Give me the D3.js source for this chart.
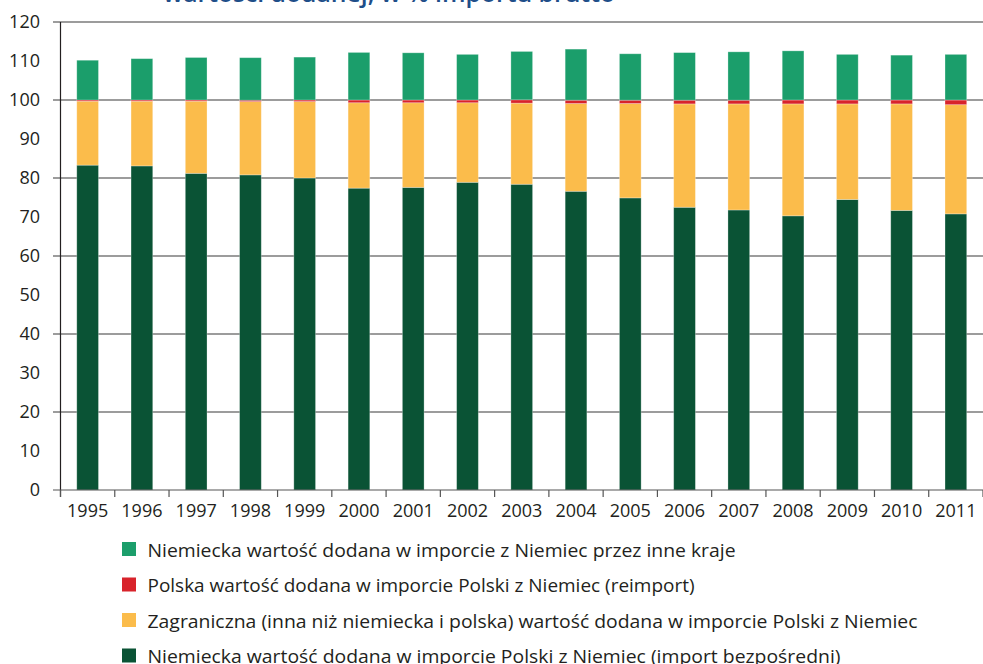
<!DOCTYPE html>
<html>
<head>
<meta charset="utf-8">
<script src="https://cdn.jsdelivr.net/npm/d3@7"></script>
<style>
  body { margin: 0; background: #fff; }
  svg { display: block; font-family: "Open Sans", sans-serif; }
</style>
</head>
<body>
<svg id="chart"></svg>
<script>
const years = ["1995","1996","1997","1998","1999","2000","2001","2002","2003","2004","2005","2006","2007","2008","2009","2010","2011"];

// niemiecka VA w imporcie bezposrednim
const direct   = [83.3,83.1,81.2,80.8,80.0,77.4,77.6,78.9,78.4,76.6,74.9,72.5,71.8,70.3,74.5,71.7,70.8];
// zagraniczna (inna niz niemiecka i polska)
const foreign  = [16.4,16.6,18.5,18.8,19.6,21.9,21.7,20.4,20.8,22.5,24.2,26.5,27.2,28.7,24.5,27.3,28.0];
// polska VA (reimport)
const reimport = [0.3,0.3,0.3,0.35,0.4,0.7,0.7,0.7,0.85,0.85,0.85,0.95,0.95,1.0,1.0,1.0,1.2];
// niemiecka VA przez inne kraje
const viaOther = [10.2,10.6,10.9,10.9,11.0,12.2,12.1,11.7,12.4,13.1,11.9,12.2,12.4,12.6,11.7,11.5,11.7];

const yTicks = [0,10,20,30,40,50,60,70,80,90,100,110,120];
const gridTicks = [20,40,60,80,100,120];

const legendLabels = [
  "Niemiecka wartość dodana w imporcie z Niemiec przez inne kraje",
  "Polska wartość dodana w imporcie Polski z Niemiec (reimport)",
  "Zagraniczna (inna niż niemiecka i polska) wartość dodana w imporcie Polski z Niemiec",
  "Niemiecka wartość dodana w imporcie Polski z Niemiec (import bezpośredni)"
];
const legendWidths = [588, 547, 770, 693];

const keys = ["direct","foreign","reimport","viaOther"];
const colors = {direct:"#0a5335", foreign:"#fbbc4b", reimport:"#d8232b", viaOther:"#1b9e6b"};

const W = 983, H = 664;
const m = {left: 60.5, top: 22, bottom: 490};
const plotRight = 983;

let rows = years.map((y,i)=>({year:y, direct:direct[i], foreign:foreign[i], reimport:reimport[i], viaOther:viaOther[i]}));

let svg = d3.select("#chart").attr("width", W).attr("height", H);

let x = d3.scaleBand().domain(years).range([m.left, plotRight]).paddingInner(0.6).paddingOuter(0.3);
let xb = d3.scaleBand().domain(years).range([m.left, plotRight]);
let y = d3.scaleLinear().domain([0,120]).range([m.bottom, m.top]);

// tytul (uciety u gory)
svg.append("text")
  .attr("x", 163).attr("y", 1.5)
  .attr("fill", "#1f4e89")
  .attr("font-size", 23)
  .attr("font-weight", 600)
  .attr("textLength", 452)
  .attr("lengthAdjust", "spacingAndGlyphs")
  .text("wartości dodanej, w % importu brutto");

// siatka
svg.append("g").selectAll("line")
  .data(gridTicks)
  .enter().append("line")
  .attr("x1", 53).attr("x2", plotRight)
  .attr("y1", d=>y(d)).attr("y2", d=>y(d))
  .attr("stroke", "#3a3a3a").attr("stroke-width", 1.2);

// slupki
let stack = d3.stack().keys(keys)(rows);
svg.append("g").selectAll("g")
  .data(stack)
  .enter().append("g")
  .attr("fill", d=>colors[d.key])
  .selectAll("rect")
  .data(d=>d)
  .enter().append("rect")
  .attr("x", d=>x(d.data.year))
  .attr("width", x.bandwidth())
  .attr("y", d=>y(d[1]))
  .attr("height", d=>y(d[0]) - y(d[1]))
  .attr("stroke", "#ffffff").attr("stroke-opacity", 0.35).attr("stroke-width", 0.8);

// os Y
svg.append("line")
  .attr("x1", m.left).attr("x2", m.left)
  .attr("y1", m.top).attr("y2", m.bottom + 7)
  .attr("stroke", "#231f20").attr("stroke-width", 1.2);

svg.append("g").selectAll("text")
  .data(yTicks)
  .enter().append("text")
  .attr("x", 40).attr("y", d=>y(d))
  .attr("dy", "0.36em")
  .attr("text-anchor", "end")
  .attr("font-size", 18)
  .attr("fill", "#231f20")
  .text(d=>d);

// os X
let xAxis = svg.append("g")
  .attr("transform", `translate(0,${m.bottom})`)
  .call(d3.axisBottom(xb).tickSize(0).tickPadding(14));
xAxis.select(".domain").remove();
xAxis.selectAll("text").attr("font-size", 18).attr("fill", "#231f20").attr("font-family", "Open Sans, sans-serif");

svg.append("line")
  .attr("x1", 53).attr("x2", plotRight)
  .attr("y1", m.bottom).attr("y2", m.bottom)
  .attr("stroke", "#555").attr("stroke-width", 1.2);

svg.append("g").selectAll("line")
  .data(years.concat(["end"]))
  .enter().append("line")
  .attr("x1", (d,i)=>m.left + i*xb.step()).attr("x2", (d,i)=>m.left + i*xb.step())
  .attr("y1", m.bottom).attr("y2", m.bottom + 7)
  .attr("stroke", "#555").attr("stroke-width", 1.2);

// legenda
let legendKeys = ["viaOther","reimport","foreign","direct"];
let lg = svg.append("g").selectAll("g")
  .data(legendKeys)
  .enter().append("g")
  .attr("transform", (d,i)=>`translate(122,${542 + i*35.5})`);

lg.append("rect")
  .attr("width", 14).attr("height", 14)
  .attr("fill", d=>colors[d]);

lg.append("text")
  .attr("x", 25.5).attr("y", 14.5)
  .attr("font-size", 18)
  .attr("fill", "#231f20")
  .attr("textLength", (d,i)=>legendWidths[i])
  .attr("lengthAdjust", "spacingAndGlyphs")
  .text((d,i)=>legendLabels[i]);
</script>
</body>
</html>
